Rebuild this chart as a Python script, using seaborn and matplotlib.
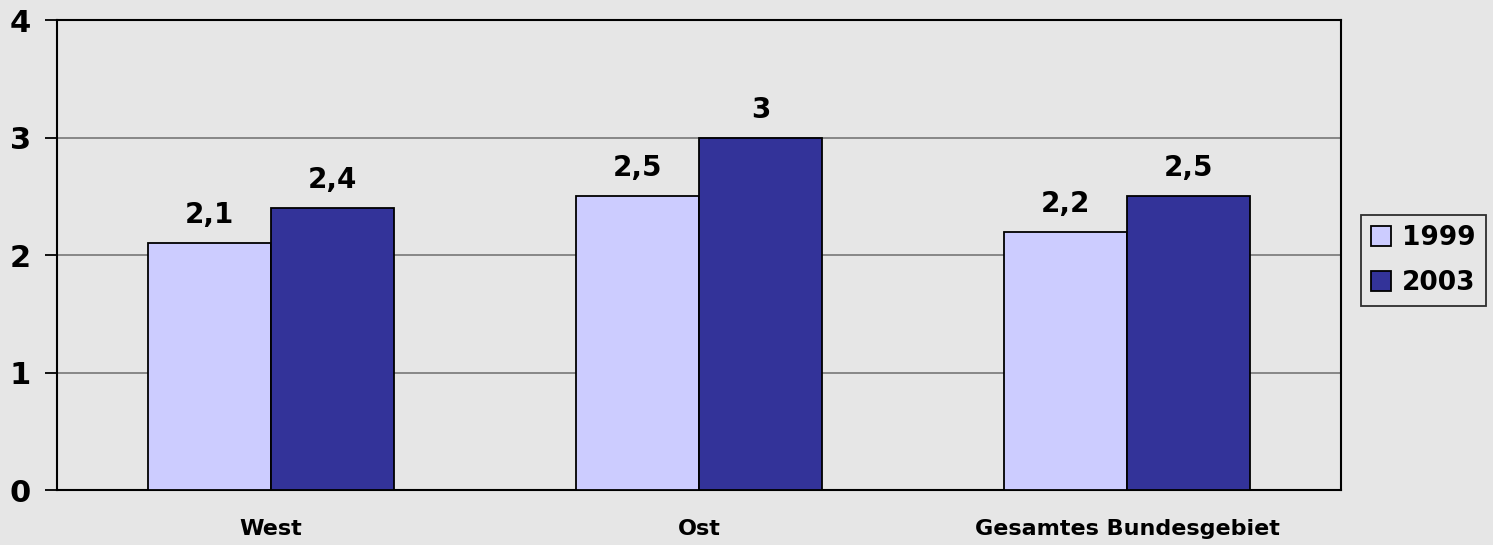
import matplotlib
matplotlib.use("Agg")
import matplotlib.pyplot as plt
import seaborn as sns
import pandas as pd
from matplotlib.ticker import FixedLocator

regions = ["West", "Ost", "Gesamtes Bundesgebiet"]
years = ["1999", "2003"]
values_1999 = [2.1, 2.5, 2.2]
values_2003 = [2.4, 3.0, 2.5]
y_ticks = [0, 1, 2, 3, 4]

df = pd.DataFrame({
    "Region": regions * 2,
    "Jahr": [years[0]] * 3 + [years[1]] * 3,
    "Wert": values_1999 + values_2003,
})

bg = "#E6E6E6"
sns.set_theme(style="white", rc={"text.color": "black", "xtick.color": "black",
                                 "ytick.color": "black", "axes.labelcolor": "black"})
plt.rcParams["font.family"] = ["DejaVu Sans"]
plt.rcParams["font.weight"] = "bold"

fig = plt.figure(figsize=(14.93, 5.45), dpi=100, facecolor=bg)
ax = fig.add_axes([0.0382, 0.1009, 0.86, 0.8624])
ax.set_facecolor(bg)

sns.barplot(data=df, x="Region", y="Wert", hue="Jahr", order=regions, hue_order=years,
            palette=["#CCCCFF", "#333399"], width=0.575, gap=0, edgecolor="black",
            linewidth=1.3, ax=ax, saturation=1, zorder=3)

for cont in ax.containers:
    ax.bar_label(cont, labels=[f"{v:g}".replace(".", ",") for v in cont.datavalues],
                 padding=10, fontsize=20, fontweight="bold", color="black")

ax.set_ylim(0, 4)
ax.set_xlim(-0.5, 2.5)
ax.set_yticks(y_ticks)
ax.set_yticklabels([str(t) for t in y_ticks], fontsize=22, fontweight="bold")
for t in y_ticks[1:-1]:
    ax.axhline(t, color="#808080", linewidth=1.3, zorder=1)

ax.set_xticks(range(len(regions)))
ax.set_xticklabels(regions, fontsize=16, fontweight="bold")
ax.xaxis.set_minor_locator(FixedLocator([-0.5, 0.5, 1.5, 2.5]))
ax.tick_params(axis="x", which="major", length=0, pad=21)
ax.tick_params(axis="x", which="minor", length=6, width=1.3, color="black", direction="out")
ax.tick_params(axis="y", length=8.6, width=1.3, color="black", direction="out", pad=10, left=True)
ax.set_xlabel("")
ax.set_ylabel("")

for s in ax.spines.values():
    s.set_visible(True)
    s.set_color("black")
    s.set_linewidth(1.5)

leg = ax.legend(title=None, loc="upper left", bbox_to_anchor=(0.9116, 0.605),
                bbox_transform=fig.transFigure, frameon=True, fancybox=False,
                edgecolor="black", facecolor=bg, fontsize=19,
                handlelength=0.75, handleheight=0.75, handletextpad=0.42,
                borderpad=0.38, labelspacing=0.72, borderaxespad=0)
leg.get_frame().set_linewidth(1.3)
for txt in leg.get_texts():
    txt.set_fontweight("bold")

fig.savefig("out.png", dpi=100, facecolor=bg)
